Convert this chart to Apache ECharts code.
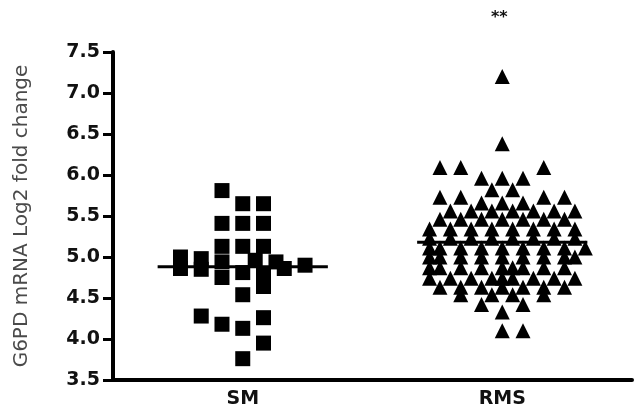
<!DOCTYPE html>
<html>
<head>
<meta charset="utf-8">
<script src="https://cdn.jsdelivr.net/npm/echarts@6/dist/echarts.min.js"></script>
<style>
html,body{margin:0;padding:0;background:#fff;}
#c{width:642px;height:418px;}
</style>
</head>
<body>
<div id="c"></div>
<script>
// ---- data ----
const categories = ['SM', 'RMS'];
const yTicks = [3.5, 4.0, 4.5, 5.0, 5.5, 6.0, 6.5, 7.0, 7.5];
const yTitle = 'G6PD mRNA Log2 fold change';
const significance = '**';

// SM values (squares) and their scatter-column offsets
const smValues = [5.81, 5.65, 5.65, 5.41, 5.41, 5.41, 5.13, 5.13, 5.13,
  5.00, 4.86, 4.98, 4.85, 4.94, 4.75, 4.81, 4.54, 4.96, 4.78, 4.64,
  4.94, 4.86, 4.90, 4.28, 4.18, 4.13, 4.26, 3.95, 3.76];
const smColumns = [-1, 0, 1, -1, 0, 1, -1, 0, 1,
  -3, -3, -2, -2, -1, -1, 0, 0, 0.6, 1, 1,
  1.6, 2, 3, -2, -1, 0, 1, 1, 0];

// RMS values (triangles), grouped by row, with column offsets per row
const rmsRowValues = [7.20, 6.38, 6.09, 5.96, 5.82, 5.73, 5.66, 5.56, 5.46, 5.34,
  5.23, 5.11, 5.00, 4.87, 4.74, 4.63, 4.54, 4.42, 4.33, 4.10];
const rmsRowColumns = [
  [0],
  [0],
  [-6, -4, 4],
  [-2, 0, 2],
  [-1, 1],
  [-6, -4, 4, 6],
  [-2, 0, 2],
  [-5, -3, -1, 1, 3, 5, 7],
  [-6, -4, -2, 0, 2, 4, 6],
  [-7, -5, -3, -1, 1, 3, 5, 7],
  [-7, -5, -3, -1, 1, 3, 5, 7],
  [-7, -6, -4, -2, 0, 2, 4, 6, 8],
  [-7, -6, -4, -2, 0, 2, 4, 6, 7],
  [-7, -6, -4, -2, 0, 1, 2, 4, 6],
  [-7, -5, -3, -1, 0, 1, 3, 5, 7],
  [-6, -4, -2, 0, 2, 4, 6],
  [-4, -1, 1, 4],
  [-2, 2],
  [0],
  [0, 2]
];

const medians = [4.88, 5.18];

// ---- build ----
const CENTER = [25, 75];     // category centres on the hidden value axis (0..100)
const SM_STEP = 4;           // column step for squares
const RMS_STEP = 2;          // column step for triangles
const HALF = 16.4;           // half-width of the median bar

const smData = smValues.map((v, i) => [CENTER[0] + smColumns[i] * SM_STEP, v]);
const rmsData = [];
rmsRowValues.forEach((v, r) => {
  rmsRowColumns[r].forEach(c => rmsData.push([CENTER[1] + c * RMS_STEP, v]));
});

const medianSeries = medians.map((m, i) => ({
  type: 'line',
  xAxisIndex: 1,
  data: [[CENTER[i] - HALF, m], [CENTER[i] + HALF, m]],
  symbol: 'none',
  lineStyle: { color: '#000', width: 3 },
  z: 5,
  silent: true
}));

const chart = echarts.init(document.getElementById('c'), null, { renderer: 'canvas' });
chart.setOption({
  animation: false,
  backgroundColor: '#fff',
  grid: { left: 113, right: 10, top: 52, bottom: 38, containLabel: false },
  xAxis: [
    {
      type: 'category',
      data: categories,
      boundaryGap: true,
      axisLine: { lineStyle: { color: '#000', width: 4 } },
      axisTick: { alignWithLabel: true, length: 8, lineStyle: { color: '#000', width: 3 } },
      axisLabel: { color: '#111', fontFamily: 'DejaVu Sans', fontWeight: 'bold', fontSize: 19, margin: 10 },
      splitLine: { show: false }
    },
    { type: 'value', min: 0, max: 100, show: false }
  ],
  yAxis: {
    type: 'value',
    min: yTicks[0],
    max: yTicks[yTicks.length - 1],
    interval: 0.5,
    name: yTitle,
    nameLocation: 'middle',
    nameGap: 81,
    nameRotate: 90,
    nameTextStyle: { color: '#4a4a4a', fontFamily: 'DejaVu Sans', fontSize: 20 },
    axisLine: { show: true, lineStyle: { color: '#000', width: 4 } },
    axisTick: { show: true, length: 10, lineStyle: { color: '#000', width: 3 } },
    axisLabel: { color: '#111', fontFamily: 'DejaVu Sans', fontWeight: 'bold', fontSize: 19, margin: 13,
      formatter: v => v.toFixed(1) },
    splitLine: { show: false }
  },
  graphic: [{
    type: 'text', left: 491, top: 10,
    style: { text: significance, fill: '#111', font: 'bold 16px DejaVu Sans' }
  }],
  series: [
    {
      type: 'scatter', xAxisIndex: 1, data: smData,
      symbol: 'rect', symbolSize: 15, itemStyle: { color: '#000', opacity: 1 }, z: 3
    },
    {
      type: 'scatter', xAxisIndex: 1, data: rmsData,
      symbol: 'triangle', symbolSize: 15, itemStyle: { color: '#000', opacity: 1 }, z: 3
    }
  ].concat(medianSeries)
});
</script>
</body>
</html>
